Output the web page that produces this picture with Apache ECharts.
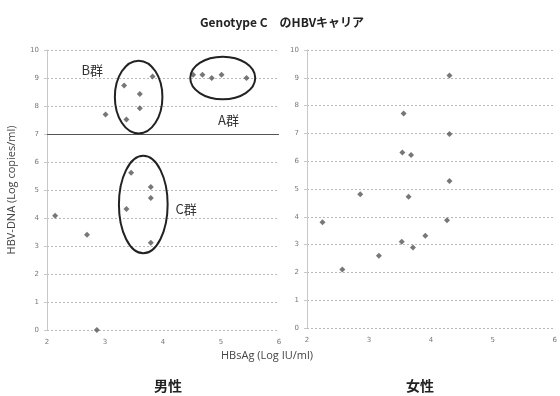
<!DOCTYPE html>
<html>
<head>
<meta charset="utf-8">
<script src="https://cdn.jsdelivr.net/npm/echarts@6/dist/echarts.min.js"></script>
<style>
  html, body { margin: 0; padding: 0; background: #fff; }
  #chart { width: 560px; height: 396px; }
</style>
</head>
<body>
<div id="chart"></div>
<script>
// HBsAg (log IU/ml) vs HBV-DNA (log copies/ml), genotype C carriers
const xTicks = [2, 3, 4, 5, 6];
const yTicks = [0, 1, 2, 3, 4, 5, 6, 7, 8, 9, 10];

// Male carriers
const maleHBsAg = [4.52, 4.68, 4.84, 5.01, 5.44, 3.82, 3.33, 3.60, 3.60, 3.37, 3.01, 3.45, 3.79, 3.79, 3.37, 3.79, 2.14, 2.69, 2.86];
const maleDNA   = [9.12, 9.12, 9.00, 9.12, 9.00, 9.05, 8.73, 8.43, 7.92, 7.52, 7.70, 5.62, 5.11, 4.71, 4.32, 3.12, 4.08, 3.40, 0.00];

// Female carriers
const femaleHBsAg = [4.30, 3.56, 4.30, 3.54, 3.68, 4.30, 2.86, 3.64, 2.25, 2.57, 3.16, 3.53, 3.71, 3.91, 4.26];
const femaleDNA   = [9.08, 7.72, 6.98, 6.31, 6.22, 5.29, 4.81, 4.72, 3.80, 2.10, 2.60, 3.10, 2.90, 3.32, 3.88];

// Group outlines on the male panel (data units)
const groupNames = ['A群', 'B群', 'C群'];
const groupCx = [5.03, 3.58, 3.66];
const groupCy = [9.00, 8.32, 4.48];
const groupRx = [0.56, 0.41, 0.42];
const groupRy = [0.76, 1.30, 1.74];
const groupLabelX = [5.13, 2.78, 4.40];
const groupLabelY = [7.50, 9.30, 4.32];

const DNA_CUTOFF = 7;

const tickColor = '#777';
const gridColor = '#b8b8b8';

function xAxisCfg(gridIndex) {
  return {
    gridIndex, type: 'value', min: xTicks[0], max: xTicks[xTicks.length - 1], interval: 1,
    axisLine: { show: false }, axisTick: { show: false }, splitLine: { show: false },
    axisLabel: { color: tickColor, fontSize: 7, margin: 9, fontFamily: 'DejaVu Sans' }
  };
}
function yAxisCfg(gridIndex, name) {
  return {
    gridIndex, type: 'value', min: yTicks[0], max: yTicks[yTicks.length - 1], interval: 1,
    name: name, nameLocation: 'middle', nameGap: 30,
    nameTextStyle: { color: '#444', fontSize: 11, fontFamily: 'Open Sans' },
    axisLine: { show: true, lineStyle: { color: '#c8c8c8', width: 1 } },
    axisTick: { show: true, length: 3, lineStyle: { color: '#c8c8c8' } },
    axisLabel: { color: tickColor, fontSize: 7, margin: 8, fontFamily: 'DejaVu Sans' },
    splitLine: { show: true, lineStyle: { color: gridColor, type: [2, 2], width: 1 } }
  };
}

const ellipseData = groupCx.map((cx, i) => [cx, groupCy[i], groupRx[i], groupRy[i]]);
const labelData = groupNames.map((n, i) => [groupLabelX[i], groupLabelY[i], n]);

const chart = echarts.init(document.getElementById('chart'), null, { renderer: 'canvas' });
chart.setOption({
  animation: false,
  backgroundColor: '#fff',
  title: {
    text: 'Genotype C\u3000のHBVキャリア', left: 277, top: 11, textAlign: 'center',
    textStyle: { fontSize: 12, fontWeight: 'bold', color: '#222', fontFamily: 'Noto Sans CJK JP' }
  },
  grid: [
    { left: 47, top: 50, width: 232, height: 280 },
    { left: 307, top: 50, width: 249, height: 278 }
  ],
  xAxis: [xAxisCfg(0), xAxisCfg(1)],
  yAxis: [yAxisCfg(0, 'HBV-DNA (Log copies/ml)'), yAxisCfg(1, '')],
  graphic: [
    { type: 'text', left: 221, top: 350, style: { text: 'HBsAg (Log IU/ml)', fill: '#444', fontSize: 11, fontFamily: 'Open Sans', textAlign: 'center' } },
    { type: 'text', left: 154, top: 379, style: { text: '男性', fill: '#222', fontSize: 14, fontWeight: 'bold', fontFamily: 'Noto Sans CJK JP', textAlign: 'center' } },
    { type: 'text', left: 406, top: 379, style: { text: '女性', fill: '#222', fontSize: 14, fontWeight: 'bold', fontFamily: 'Noto Sans CJK JP', textAlign: 'center' } }
  ],
  series: [
    {
      type: 'scatter', xAxisIndex: 0, yAxisIndex: 0,
      data: maleHBsAg.map((x, i) => [x, maleDNA[i]]),
      symbol: 'diamond', symbolSize: 6, itemStyle: { color: '#555' },
      markLine: {
        silent: true, symbol: 'none', label: { show: false },
        lineStyle: { color: '#555', type: 'solid', width: 1.2 },
        data: [{ yAxis: DNA_CUTOFF }]
      }
    },
    {
      type: 'scatter', xAxisIndex: 1, yAxisIndex: 1,
      data: femaleHBsAg.map((x, i) => [x, femaleDNA[i]]),
      symbol: 'diamond', symbolSize: 6, itemStyle: { color: '#555' }
    },
    {
      type: 'custom', xAxisIndex: 0, yAxisIndex: 0, silent: true, z: 5,
      data: ellipseData,
      renderItem: function (params, api) {
        const c = api.coord([api.value(0), api.value(1)]);
        const s = api.size([api.value(2), api.value(3)]);
        return {
          type: 'ellipse',
          shape: { cx: c[0], cy: c[1], rx: s[0], ry: s[1] },
          style: { fill: 'none', stroke: '#222', lineWidth: 2 }
        };
      }
    },
    {
      type: 'custom', xAxisIndex: 0, yAxisIndex: 0, silent: true, z: 5,
      data: labelData,
      renderItem: function (params, api) {
        const c = api.coord([api.value(0), api.value(1)]);
        return {
          type: 'text',
          style: {
            x: c[0], y: c[1], text: labelData[params.dataIndex][2],
            fill: '#333', fontSize: 13, fontFamily: 'Noto Sans CJK JP',
            textAlign: 'center', textVerticalAlign: 'middle'
          }
        };
      }
    }
  ]
});
</script>
</body>
</html>
